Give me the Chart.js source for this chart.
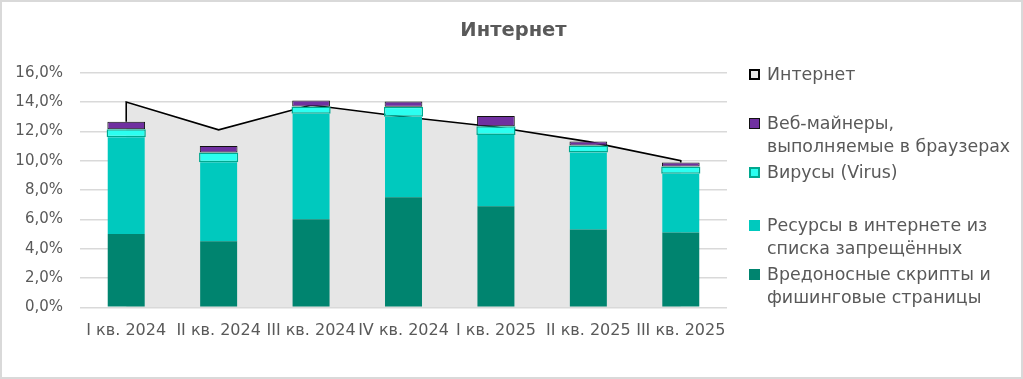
<!DOCTYPE html>
<html>
<head>
<meta charset="utf-8">
<script src="https://cdn.jsdelivr.net/npm/chart.js@4.4.1/dist/chart.umd.min.js"></script>
<style>
  html, body { margin: 0; padding: 0; background: #ffffff; }
  #wrap { position: relative; width: 1023px; height: 379px; overflow: hidden; font-family: "DejaVu Sans", sans-serif; }
  #frame { position: absolute; left: 0; top: 0; width: 1023px; height: 379px; box-sizing: border-box; border: 2px solid #d9d9d9; pointer-events: none; }
  #title { position: absolute; left: 0; width: 1027px; top: 18px; text-align: center; color: #595959; font-size: 19.5px; font-weight: bold; line-height: 24px; }
  #legend { position: absolute; left: 749px; top: 0; width: 272px; color: #595959; font-size: 17.4px; }
  .item { position: absolute; left: 0; line-height: 23.3px; white-space: nowrap; }
  .box { position: absolute; left: 0; top: 6px; width: 11px; height: 11px; box-sizing: border-box; }
  .txt { position: absolute; left: 18px; top: 0; }
</style>
</head>
<body>
<div id="wrap">
  <canvas id="c" width="1023" height="379"></canvas>
  <div id="title">Интернет</div>
  <div id="legend"></div>
  <div id="frame"></div>
</div>
<script>
const categories = ['I кв. 2024', 'II кв. 2024', 'III кв. 2024', 'IV кв. 2024', 'I кв. 2025', 'II кв. 2025', 'III кв. 2025'];
const scriptsPhishing = [5.0, 4.5, 6.0, 7.5, 6.9, 5.3, 5.1];
const blockedResources = [6.6, 5.4, 7.2, 5.5, 4.85, 5.25, 4.0];
const viruses = [0.55, 0.65, 0.5, 0.68, 0.6, 0.48, 0.5];
const webMiners = [0.5, 0.45, 0.4, 0.35, 0.7, 0.28, 0.28];
const internetTotal = [14.0, 12.1, 13.8, 13.0, 12.3, 11.3, 10.0];
const yTicks = [0, 2, 4, 6, 8, 10, 12, 14, 16];

const seriesNames = {
  internet: 'Интернет',
  miners: 'Веб-майнеры,\nвыполняемые в браузерах',
  virus: 'Вирусы (Virus)',
  blocked: 'Ресурсы в интернете из\nсписка запрещённых',
  scripts: 'Вредоносные скрипты и\nфишинговые страницы'
};

// stacked bar height at a category (for closing the area outline at both ends)
const stackTop = i => scriptsPhishing[i] + blockedResources[i] + viruses[i] + webMiners[i];
const last = categories.length - 1;
const areaPoints = [{ x: categories[0], y: stackTop(0) }]
  .concat(internetTotal.map((v, i) => ({ x: categories[i], y: v })))
  .concat([{ x: categories[last], y: stackTop(last) }]);

const TXT = '#595959';

const chart = new Chart(document.getElementById('c'), {
  type: 'bar',
  data: {
    labels: categories,
    datasets: [
      { label: seriesNames.scripts, data: scriptsPhishing, backgroundColor: '#00846f', borderWidth: 0, order: 1 },
      { label: seriesNames.blocked, data: blockedResources, backgroundColor: '#00c9be', borderWidth: 0, order: 1 },
      { label: seriesNames.virus, data: viruses, backgroundColor: '#2bfff0', borderColor: '#00a88f', borderWidth: 1.5, borderSkipped: false, barPercentage: 0.53, order: 1 },
      { label: seriesNames.miners, data: webMiners, backgroundColor: '#7030a0', borderColor: '#111111', borderWidth: 1, borderSkipped: false, barPercentage: 0.51, order: 1 },
      { type: 'line', label: seriesNames.internet, data: areaPoints, borderColor: '#000000', borderWidth: 1.6,
        backgroundColor: '#e6e6e6', fill: 'origin', pointRadius: 0, tension: 0, order: 10, stack: 'area' }
    ]
  },
  options: {
    responsive: false,
    animation: false,
    devicePixelRatio: 1,
    layout: { padding: { left: 0, right: 296, top: 72.7, bottom: 0 } },
    datasets: { bar: { categoryPercentage: 0.8, barPercentage: 0.5 } },
    plugins: {
      legend: { display: false },
      tooltip: { enabled: false },
      title: { display: false }
    },
    scales: {
      x: {
        stacked: true,
        grid: { display: false, drawTicks: false },
        border: { display: false },
        ticks: { color: TXT, font: { family: 'DejaVu Sans', size: 16 }, padding: 14, autoSkip: false, maxRotation: 0, minRotation: 0 },
        afterFit: s => { s.height = 379 - 307.3; }
      },
      y: {
        stacked: true,
        min: 0, max: 16,
        afterBuildTicks: s => { s.ticks = yTicks.map(v => ({ value: v })); },
        grid: { color: '#d9d9d9', lineWidth: 1.5, drawTicks: false },
        border: { display: false },
        ticks: { color: TXT, font: { family: 'DejaVu Sans', size: 15 }, padding: 17,
          callback: v => v.toFixed(1).replace('.', ',') + '%' },
        afterFit: s => { s.width = 80; }
      }
    }
  }
});

// HTML legend
const legendItems = [
  { text: seriesNames.internet, fill: '#e6e6e6', border: '2px solid #000', top: 63 },
  { text: seriesNames.miners, fill: '#7030a0', border: '1px solid #111', top: 112 },
  { text: seriesNames.virus, fill: '#2bfff0', border: '2px solid #00a88f', top: 161 },
  { text: seriesNames.blocked, fill: '#00c9be', border: 'none', top: 214 },
  { text: seriesNames.scripts, fill: '#00846f', border: 'none', top: 263 }
];
const leg = document.getElementById('legend');
legendItems.forEach(it => {
  const d = document.createElement('div');
  d.className = 'item';
  d.style.top = it.top + 'px';
  const b = document.createElement('div');
  b.className = 'box';
  b.style.background = it.fill;
  b.style.border = it.border;
  const t = document.createElement('div');
  t.className = 'txt';
  t.innerHTML = it.text.split('\n').join('<br>');
  d.appendChild(b); d.appendChild(t);
  leg.appendChild(d);
});
</script>
</body>
</html>
